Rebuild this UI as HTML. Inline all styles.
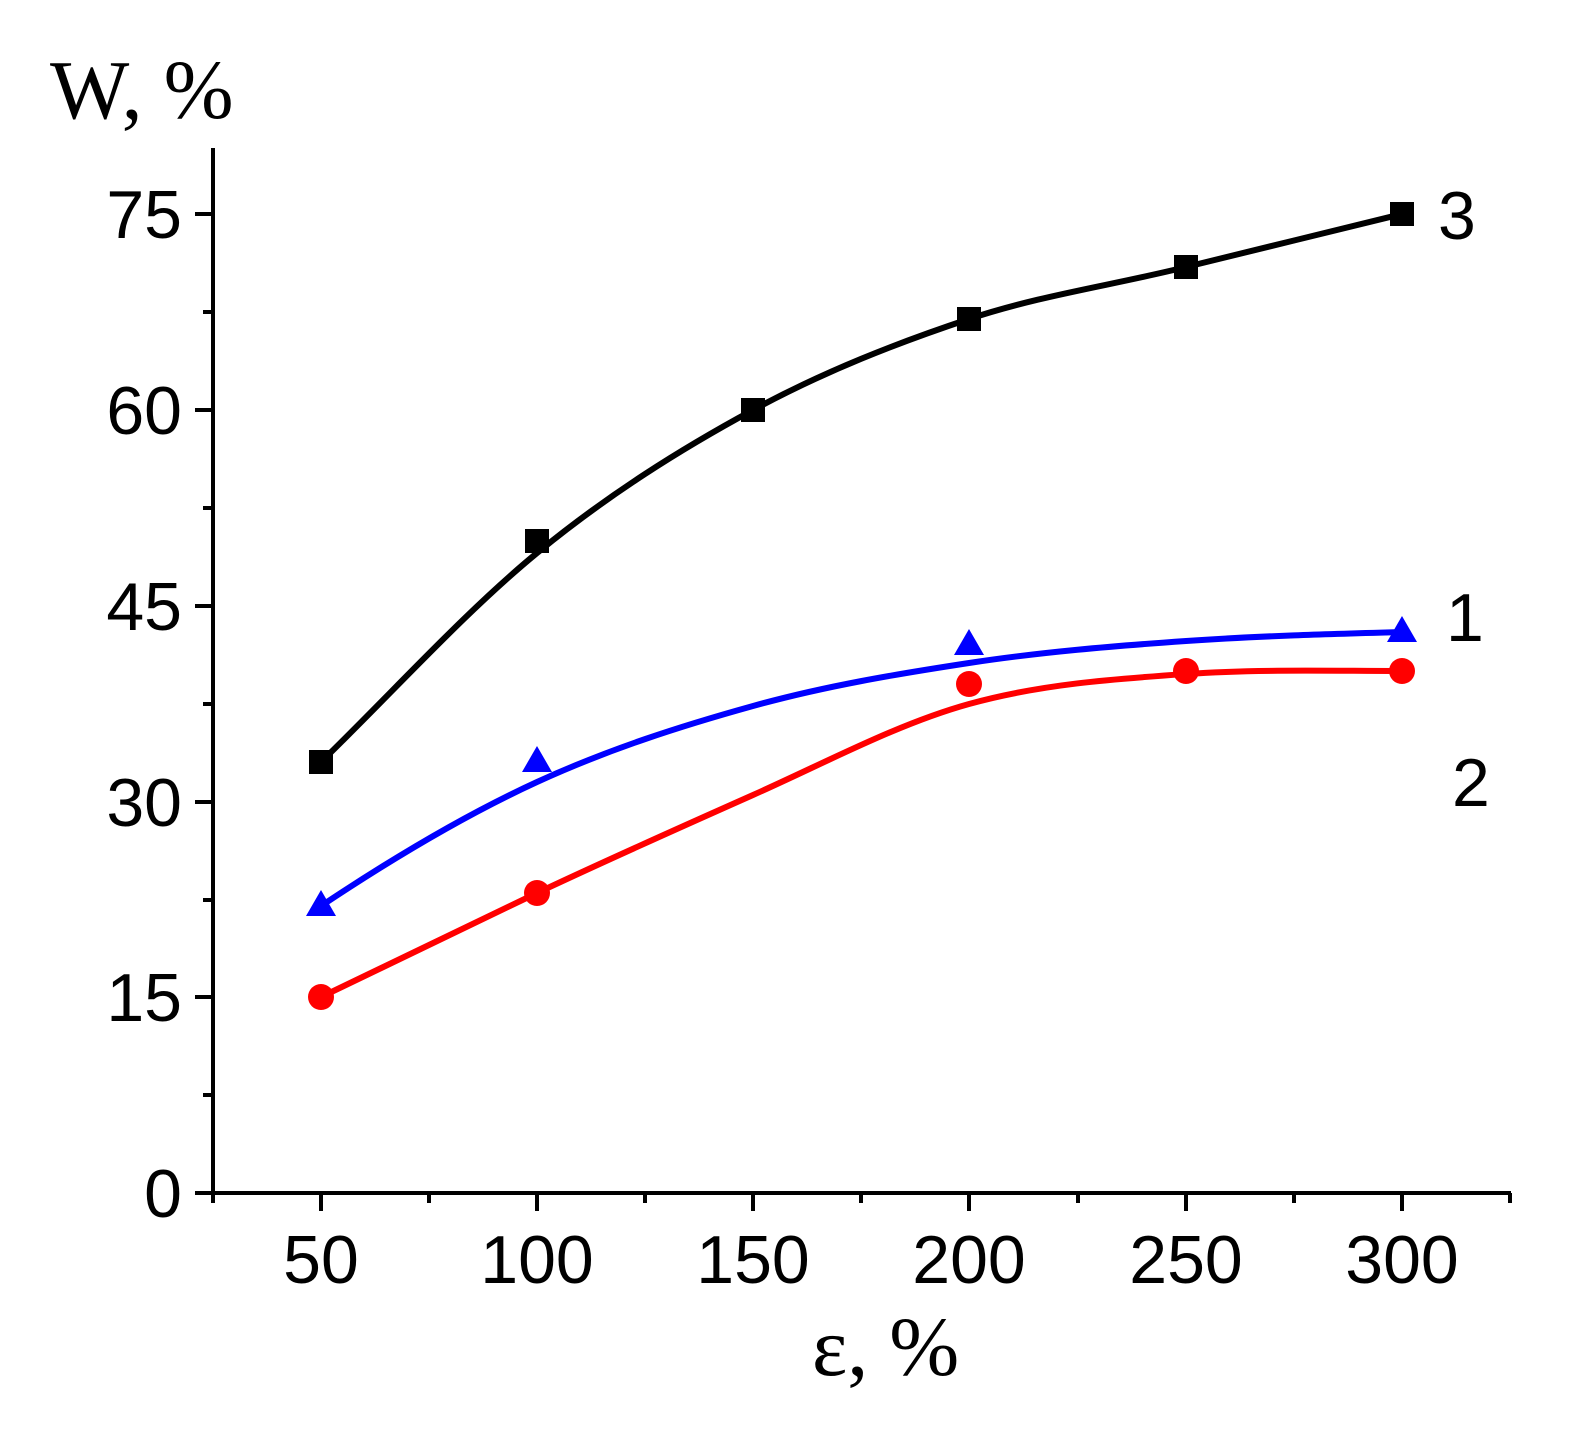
<!DOCTYPE html>
<html><head><meta charset="utf-8"><style>
html,body{margin:0;padding:0;background:#fff;}
svg{display:block;}
.t{font-family:"Liberation Sans",Arial,sans-serif;font-size:68px;fill:#000;}
.s{font-family:"Liberation Serif","Times New Roman",serif;font-size:84px;fill:#000;}
</style></head><body>
<svg width="1574" height="1446" viewBox="0 0 1574 1446" xmlns="http://www.w3.org/2000/svg">
<g stroke="#000" stroke-width="4" fill="none">
<line x1="213" y1="148" x2="213" y2="1195"/>
<line x1="211" y1="1193" x2="1511" y2="1193"/>
<line x1="195" y1="1193" x2="213" y2="1193"/>
<line x1="195" y1="997" x2="213" y2="997"/>
<line x1="195" y1="802" x2="213" y2="802"/>
<line x1="195" y1="606" x2="213" y2="606"/>
<line x1="195" y1="410" x2="213" y2="410"/>
<line x1="195" y1="214" x2="213" y2="214"/>
<line x1="203" y1="1095" x2="213" y2="1095"/>
<line x1="203" y1="900" x2="213" y2="900"/>
<line x1="203" y1="704" x2="213" y2="704"/>
<line x1="203" y1="508" x2="213" y2="508"/>
<line x1="203" y1="312" x2="213" y2="312"/>
<line x1="321" y1="1193" x2="321" y2="1211"/>
<line x1="537" y1="1193" x2="537" y2="1211"/>
<line x1="753" y1="1193" x2="753" y2="1211"/>
<line x1="969" y1="1193" x2="969" y2="1211"/>
<line x1="1186" y1="1193" x2="1186" y2="1211"/>
<line x1="1402" y1="1193" x2="1402" y2="1211"/>
<line x1="429" y1="1193" x2="429" y2="1203"/>
<line x1="645" y1="1193" x2="645" y2="1203"/>
<line x1="861" y1="1193" x2="861" y2="1203"/>
<line x1="1078" y1="1193" x2="1078" y2="1203"/>
<line x1="1294" y1="1193" x2="1294" y2="1203"/>
<line x1="1510" y1="1193" x2="1510" y2="1203"/>
<line x1="213" y1="1193" x2="213" y2="1203"/>
</g>
<g class="t" text-anchor="end">
<text x="182" y="1217">0</text>
<text x="182" y="1021">15</text>
<text x="182" y="826">30</text>
<text x="182" y="630">45</text>
<text x="182" y="434">60</text>
<text x="182" y="238">75</text>
</g>
<g class="t" text-anchor="middle">
<text x="321" y="1283">50</text>
<text x="537" y="1283">100</text>
<text x="753" y="1283">150</text>
<text x="969" y="1283">200</text>
<text x="1186" y="1283">250</text>
<text x="1402" y="1283">300</text>
</g>
<text class="s" x="50" y="118">W, %</text>
<text class="s" x="812" y="1375">ε, %</text>
<text class="t" x="1438" y="239">3</text>
<text class="t" x="1446" y="641">1</text>
<text class="t" x="1452" y="806">2</text>
<g fill="none" stroke-width="6" stroke-linejoin="round" stroke-linecap="round">
<path stroke="#000" d="M321,762 C393,692 465,612 537,553 C609,494 681,449 753,410 C825,371 897,343 969,319 C1041,295 1114,285 1186,267 C1258,249 1330,232 1402,214"/>
<path stroke="#0000ff" d="M321,906 C393,858 465,815 537,782 C609,749 681,726 753,706 C825,686 897,674 969,663 C1041,652 1114,646 1186,641 C1258,636 1330,634 1402,632"/>
<path stroke="#ff0000" d="M321,997 C393,962 465,927 537,893 C609,859 681,827 753,795 C825,763 897,724 969,704 C1041,684 1114,679 1186,674 C1258,669 1330,671 1402,671"/>
</g>
<g fill="#000">
<rect x="309" y="750" width="24" height="24"/>
<rect x="525" y="529" width="24" height="24"/>
<rect x="741" y="398" width="24" height="24"/>
<rect x="957" y="307" width="24" height="24"/>
<rect x="1174" y="255" width="24" height="24"/>
<rect x="1390" y="202" width="24" height="24"/>
</g>
<g fill="#0000ff">
<polygon points="321,890 336,916 306,916"/>
<polygon points="537,746 552,772 522,772"/>
<polygon points="969,629 984,655 954,655"/>
<polygon points="1402,616 1417,642 1387,642"/>
</g>
<g fill="#ff0000">
<circle cx="321" cy="997" r="13"/>
<circle cx="537" cy="893" r="13"/>
<circle cx="969" cy="684" r="13"/>
<circle cx="1186" cy="671" r="13"/>
<circle cx="1402" cy="671" r="13"/>
</g>
</svg>
</body></html>
